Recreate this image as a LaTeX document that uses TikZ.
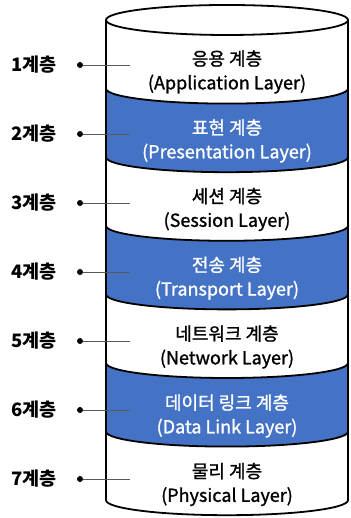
\documentclass[tikz,border=0pt]{standalone}
\usepackage{fontspec}
\setmainfont{Noto Sans CJK KR}
\newfontfamily\layerfont[FakeBold=1.2]{Noto Sans CJK KR}
\usepackage{xcolor}
\usepackage{tikz}
\usetikzlibrary{positioning,calc}

\definecolor{layerblue}{HTML}{4472C4}
\definecolor{leadgray}{HTML}{595959}

\tikzset{
  layertext/.style={align=center, inner sep=0pt, font=\fontsize{18}{24}\layerfont},
  bluetext/.style={layertext, text=white},
  lvl/.style={inner sep=0pt, font=\fontsize{18.5}{20}\selectfont\bfseries},
  dot/.style={circle, fill=black, inner sep=0pt, minimum size=6pt},
  leader/.style={draw=leadgray, line width=0.8pt},
  rim/.style={line width=1.8pt}
}

% lower half of a rim ellipse, from left to right, at height #1
\newcommand{\sagLR}[1]{(106,#1) .. controls (106,#1-8.3) and (160.2,#1-15) .. (227,#1-15)
  .. controls (293.8,#1-15) and (348,#1-8.3) .. (348,#1)}
% same, from right to left
\newcommand{\sagRL}[1]{(348,#1) .. controls (348,#1-8.3) and (293.8,#1-15) .. (227,#1-15)
  .. controls (160.2,#1-15) and (106,#1-8.3) .. (106,#1)}
% one band of the cylinder: top edge y, fill colour
\newcommand{\band}[2]{\path[fill=#2] \sagLR{#1} -- \sagRL{#1-68.6} -- cycle;}

\begin{document}
\begin{tikzpicture}[x=1pt, y=1pt, >=stealth, thick]
\useasboundingbox[fill=white] (0,0) rectangle (350,518);

% bands
\band{498}{white}
\band{429.4}{layerblue}
\band{360.8}{white}
\band{292.2}{layerblue}
\band{223.6}{white}
\band{155}{layerblue}
\band{86.4}{white}

% outline
\draw[rim, fill=white] (227,498) ellipse [x radius=121, y radius=15];
\draw[rim] (106,498) -- \sagLR{17.8} -- (348,498);
\draw[rim] \sagLR{429.4};
\draw[rim] \sagLR{360.8};
\draw[rim] \sagLR{292.2};
\draw[rim] \sagLR{223.6};
\draw[rim] \sagLR{155};
\draw[rim] \sagLR{86.4};

% layer names
\node[layertext] (app) at (227,446) {응용 계층\\(Application Layer)};
\node[bluetext] (pre) at (227,377) {표현 계층\\(Presentation Layer)};
\node[layertext] (ses) at (227,308.5) {세션 계층\\(Session Layer)};
\node[bluetext] (tra) at (227,239.8) {전송 계층\\(Transport Layer)};
\node[layertext] (net) at (227,171) {네트워크 계층\\(Network Layer)};
\node[bluetext] (dat) at (227,102) {데이터 링크 계층\\(Data Link Layer)};
\node[layertext] (phy) at (227,33.5) {물리 계층\\(Physical Layer)};

% level labels
\node[lvl] (l1) at (34,453) {1계층};
\node[lvl] (l2) at (34,384) {2계층};
\node[lvl] (l3) at (34,315) {3계층};
\node[lvl] (l4) at (34,246) {4계층};
\node[lvl] (l5) at (34,177) {5계층};
\node[lvl] (l6) at (34,108) {6계층};
\node[lvl] (l7) at (34,39) {7계층};

\node[dot] (d1) at (80,453) {};
\node[dot] (d2) at (80,384) {};
\node[dot] (d3) at (80,315) {};
\node[dot] (d4) at (80,246) {};
\node[dot] (d5) at (80,177) {};
\node[dot] (d6) at (80,108) {};
\node[dot] (d7) at (80,39) {};

\coordinate (e1) at (130,453);
\coordinate (e2) at (130,384);
\coordinate (e3) at (130,315);
\coordinate (e4) at (130,246);
\coordinate (e5) at (130,177);
\coordinate (e6) at (130,108);
\coordinate (e7) at (130,39);

\draw[leader] (d1) -- (e1);
\draw[leader] (d2) -- (e2);
\draw[leader] (d3) -- (e3);
\draw[leader] (d4) -- (e4);
\draw[leader] (d5) -- (e5);
\draw[leader] (d6) -- (e6);
\draw[leader] (d7) -- (e7);
\end{tikzpicture}
\end{document}
